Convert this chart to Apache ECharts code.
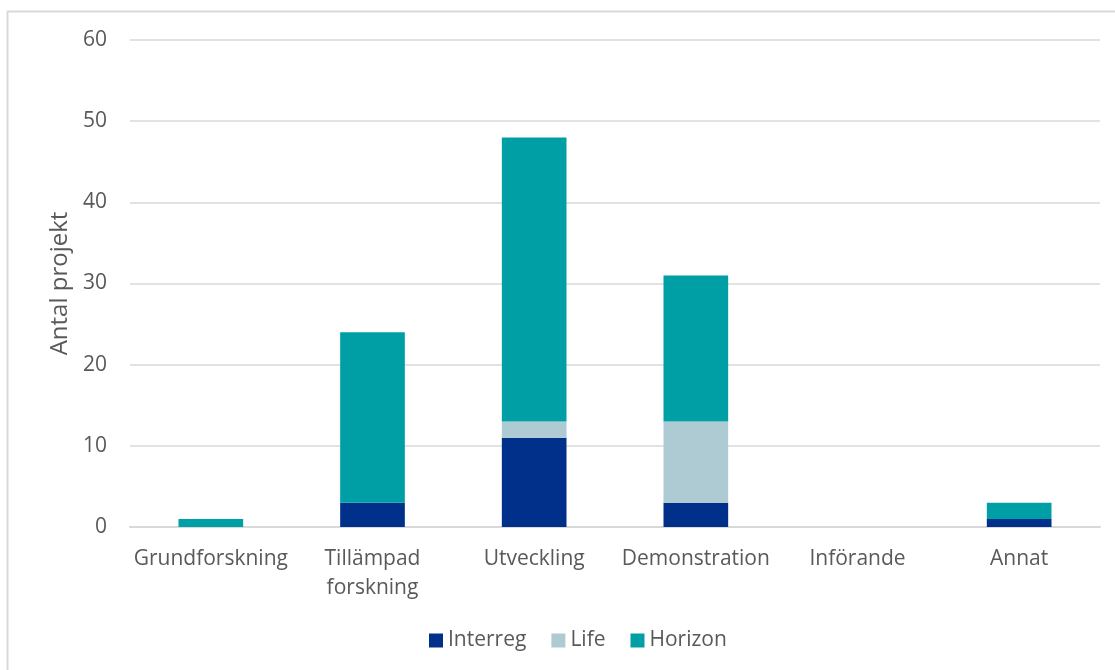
<!DOCTYPE html>
<html>
<head>
<meta charset="utf-8">
<script src="https://cdn.jsdelivr.net/npm/echarts@6/dist/echarts.min.js"></script>
<style>
  html, body { margin: 0; padding: 0; background: #fff; }
  #chart { width: 1115px; height: 670px; }
</style>
</head>
<body>
<div id="chart"></div>
<script>
// Project stages and number of projects per programme
const categories = ['Grundforskning', 'Tillämpad\nforskning', 'Utveckling', 'Demonstration', 'Införande', 'Annat'];
const interreg = [0, 3, 11, 3, 0, 1];
const life = [0, 0, 2, 10, 0, 0];
const horizon = [1, 21, 35, 18, 0, 2];
const yTicks = { min: 0, max: 60, interval: 10 };

const textColor = '#595959';
const fontFamily = '"Open Sans", "Noto Sans", sans-serif';

const chart = echarts.init(document.getElementById('chart'), null, { renderer: 'canvas' });

function barSeries(name, data, color) {
  return {
    name: name,
    type: 'bar',
    stack: 'total',
    data: data,
    barWidth: '40%',
    itemStyle: { color: color },
    emphasis: { disabled: true }
  };
}

chart.setOption({
  animation: false,
  backgroundColor: '#ffffff',
  textStyle: { fontFamily: fontFamily, color: textColor },
  graphic: [{
    type: 'rect',
    shape: { x: 7.5, y: 11.5, width: 1300, height: 800 },
    style: { fill: 'none', stroke: '#d9d9d9', lineWidth: 2 },
    silent: true,
    z: -10
  }],
  grid: { left: 130, right: 15, top: 40, bottom: 143 },
  legend: {
    bottom: 14,
    left: 424,
    itemWidth: 14,
    itemHeight: 14,
    itemGap: 25,
    icon: 'rect',
    textStyle: { fontSize: 21, color: textColor, fontFamily: fontFamily },
    data: ['Interreg', 'Life', 'Horizon']
  },
  xAxis: {
    type: 'category',
    data: categories,
    axisLine: { show: true, lineStyle: { color: '#d9d9d9', width: 2 } },
    axisTick: { show: false },
    axisLabel: { fontSize: 21, color: textColor, margin: 18, lineHeight: 29, interval: 0 }
  },
  yAxis: {
    type: 'value',
    min: yTicks.min,
    max: yTicks.max,
    interval: yTicks.interval,
    name: 'Antal projekt',
    nameLocation: 'middle',
    nameGap: 57,
    nameTextStyle: { fontSize: 24, color: textColor },
    axisLine: { show: false },
    axisTick: { show: false },
    axisLabel: { fontSize: 21, color: textColor, margin: 23 },
    splitLine: { lineStyle: { color: '#d9d9d9', width: 1.5 } }
  },
  series: [
    barSeries('Interreg', interreg, '#00308a'),
    barSeries('Life', life, '#aecbd4'),
    barSeries('Horizon', horizon, '#009fa5')
  ]
});
</script>
</body>
</html>
